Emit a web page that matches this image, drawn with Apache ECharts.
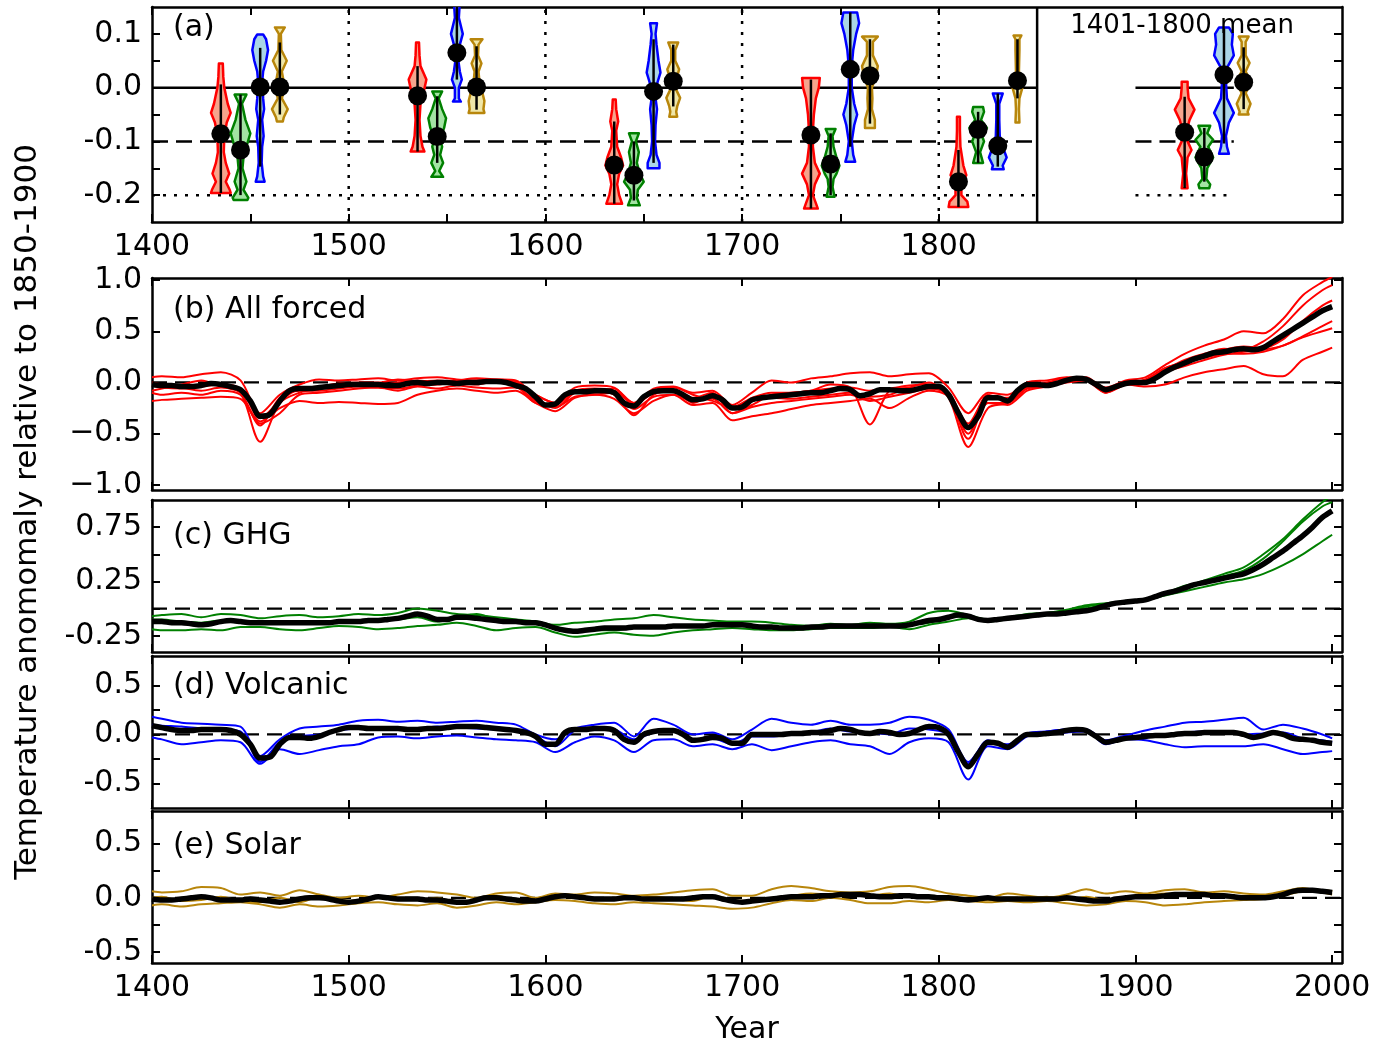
<!DOCTYPE html>
<html>
<head>
<meta charset="utf-8">
<script src="https://cdn.jsdelivr.net/npm/echarts@6/dist/echarts.min.js"></script>
<style>
html,body{margin:0;padding:0;background:#fff}
#main{width:1376px;height:1046px}
</style>
</head>
<body>
<div id="main"></div>
<script>
/**
 * Reconstructed multi panel figure: violins (a) and forced runs (b-e)
 */
var FONT = '"DejaVu Sans", sans-serif';

// ---------- data: panel (a) violins ----------
var violinPos  = [1435,1445,1455,1465, 1535,1545,1555,1565, 1635,1645,1655,1665, 1735,1745,1755,1765, 1810,1820,1830,1840, 1925,1935,1945,1955];
var violinKind = [0,1,2,3, 0,1,2,3, 0,1,2,3, 0,1,2,3, 0,1,2,3, 0,1,2,3];
var violinMean = [-0.086,-0.116,0.001,0.001, -0.015,-0.091,0.065,0.001, -0.144,-0.163,-0.007,0.012, -0.088,-0.142,0.034,0.022, -0.175,-0.078,-0.108,0.013, -0.083,-0.129,0.024,0.010];
var violinHi   = [0.006,-0.013,0.074,0.084, 0.040,-0.016,0.150,0.077, -0.063,-0.100,0.090,0.080, 0.015,-0.085,0.140,0.090, -0.116,-0.045,-0.011,0.090, -0.017,-0.075,0.110,0.075];
var violinLo   = [-0.196,-0.200,-0.147,-0.050, -0.119,-0.140,0.015,-0.041, -0.216,-0.210,-0.140,-0.035, -0.225,-0.200,-0.110,-0.067, -0.222,-0.140,-0.147,-0.020, -0.187,-0.175,-0.104,-0.040];
// density outline, top to bottom: [value, relative half width]
var violinProf = [
  [[0.045,0.2],[0.02,0.25],[0.0,0.35],[-0.03,0.7],[-0.047,1.0],[-0.065,0.6],[-0.09,0.35],[-0.12,0.3],[-0.14,0.5],[-0.16,0.85],[-0.175,0.5],[-0.19,0.9],[-0.196,1.0]],
  [[-0.013,0.6],[-0.03,0.15],[-0.06,0.5],[-0.085,1.0],[-0.11,0.6],[-0.13,0.3],[-0.15,0.2],[-0.175,0.6],[-0.19,0.3],[-0.205,0.8],[-0.209,0.7]],
  [[0.099,0.3],[0.09,0.6],[0.07,0.8],[0.05,0.6],[0.03,0.3],[0.01,0.2],[-0.02,0.3],[-0.04,0.4],[-0.06,0.2],[-0.09,0.35],[-0.11,0.2],[-0.14,0.15],[-0.165,0.3],[-0.175,0.45]],
  [[0.112,0.5],[0.1,0.1],[0.07,0.15],[0.05,0.7],[0.03,0.2],[0.0,0.5],[-0.02,0.2],[-0.04,0.8],[-0.055,0.4],[-0.063,0.3]],
  [[0.084,0.15],[0.06,0.2],[0.04,0.3],[0.015,0.9],[-0.01,0.6],[-0.03,0.3],[-0.06,0.2],[-0.09,0.3],[-0.11,0.5],[-0.119,0.7]],
  [[-0.007,0.5],[-0.02,0.15],[-0.04,0.5],[-0.057,0.9],[-0.075,0.7],[-0.095,0.3],[-0.11,0.5],[-0.125,0.3],[-0.14,0.6],[-0.155,0.2],[-0.166,0.6]],
  [[0.16,0.3],[0.13,0.2],[0.1,0.6],[0.08,0.3],[0.05,0.15],[0.03,0.3],[0.015,0.5],[0.0,0.2],[-0.02,0.2],[-0.026,0.4]],
  [[0.09,0.6],[0.08,0.2],[0.06,0.15],[0.045,0.5],[0.03,0.2],[0.01,0.3],[-0.01,0.6],[-0.025,0.8],[-0.04,0.7],[-0.047,0.8]],
  [[-0.022,0.15],[-0.04,0.2],[-0.063,0.4],[-0.08,0.2],[-0.11,0.3],[-0.13,0.7],[-0.145,0.9],[-0.16,0.5],[-0.18,0.3],[-0.2,0.5],[-0.216,0.8]],
  [[-0.085,0.5],[-0.1,0.2],[-0.12,0.5],[-0.14,0.3],[-0.16,0.6],[-0.175,1.0],[-0.19,0.4],[-0.205,0.3],[-0.219,0.6]],
  [[0.12,0.35],[0.1,0.2],[0.08,0.3],[0.05,0.5],[0.028,0.7],[0.01,0.4],[-0.02,0.2],[-0.04,0.35],[-0.07,0.2],[-0.1,0.15],[-0.125,0.3],[-0.14,0.6],[-0.15,0.6]],
  [[0.084,0.5],[0.07,0.2],[0.05,0.2],[0.034,0.6],[0.015,0.3],[0.0,0.2],[-0.019,0.7],[-0.035,0.4],[-0.045,0.3],[-0.054,0.4]],
  [[0.018,0.9],[0.0,0.8],[-0.02,0.5],[-0.05,0.3],[-0.08,0.2],[-0.11,0.2],[-0.14,0.4],[-0.16,0.9],[-0.18,0.4],[-0.2,0.2],[-0.215,0.5],[-0.225,0.7]],
  [[-0.077,0.5],[-0.09,0.2],[-0.11,0.3],[-0.13,0.6],[-0.145,0.9],[-0.16,0.6],[-0.17,0.3],[-0.185,0.2],[-0.203,0.4]],
  [[0.14,0.7],[0.12,0.9],[0.1,0.6],[0.07,0.3],[0.04,0.15],[0.0,0.15],[-0.03,0.4],[-0.05,0.7],[-0.07,0.4],[-0.1,0.15],[-0.125,0.3],[-0.138,0.5]],
  [[0.095,0.8],[0.085,0.3],[0.06,0.3],[0.04,0.8],[0.02,0.6],[0.0,0.2],[-0.02,0.25],[-0.04,0.2],[-0.06,0.5],[-0.075,0.5]],
  [[-0.054,0.15],[-0.08,0.15],[-0.11,0.2],[-0.145,0.5],[-0.163,0.8],[-0.18,0.3],[-0.2,0.3],[-0.212,0.9],[-0.222,1.0]],
  [[-0.036,0.5],[-0.045,0.6],[-0.06,0.3],[-0.075,0.9],[-0.09,0.4],[-0.1,0.6],[-0.12,0.2],[-0.14,0.5]],
  [[-0.011,0.5],[-0.03,0.15],[-0.06,0.15],[-0.09,0.2],[-0.11,0.5],[-0.13,0.9],[-0.145,0.5],[-0.152,0.6]],
  [[0.097,0.4],[0.09,0.2],[0.07,0.2],[0.03,0.15],[0.0,0.5],[-0.02,0.2],[-0.04,0.15],[-0.065,0.2]],
  [[0.011,0.3],[0.0,0.3],[-0.02,0.4],[-0.041,1.0],[-0.06,0.5],[-0.08,0.2],[-0.1,0.3],[-0.116,0.7],[-0.13,0.3],[-0.16,0.15],[-0.187,0.3]],
  [[-0.071,0.6],[-0.085,0.3],[-0.097,0.9],[-0.11,0.4],[-0.13,0.9],[-0.15,0.3],[-0.17,0.2],[-0.18,0.6],[-0.187,0.5]],
  [[0.112,0.5],[0.1,0.9],[0.08,0.8],[0.06,1.0],[0.04,0.4],[0.01,0.2],[-0.02,0.3],[-0.047,1.0],[-0.065,0.5],[-0.09,0.2],[-0.11,0.3],[-0.123,0.5]],
  [[0.095,0.5],[0.085,0.2],[0.06,0.2],[0.046,0.6],[0.03,0.2],[0.01,0.8],[-0.01,0.2],[-0.03,0.7],[-0.045,0.4],[-0.05,0.5]]
];
var refLevels = [0, -0.1, -0.2];
var refSpans = [[1400, 1850], [1900, 1950]];
var centuryLines = [1500, 1600, 1700, 1800];
var splitYear = 1850;

// ---------- data: panels (b)-(e) ----------
var yearsMean = [
  1400,1405,1410,1415,1420,1425,1430,1435,1440,1445,1450,1455,1460,1465,1470,1475,1480,1485,1490,1495,
  1500,1505,1510,1515,1520,1525,1530,1535,1540,1545,1550,1555,1560,1565,1570,1575,1580,1585,1590,1595,
  1600,1605,1610,1615,1620,1625,1630,1635,1640,1645,1650,1655,1660,1665,1670,1675,1680,1685,1690,1695,
  1700,1705,1710,1715,1720,1725,1730,1735,1740,1745,1750,1755,1760,1765,1770,1775,1780,1785,1790,1795,
  1800,1805,1810,1815,1820,1825,1830,1835,1840,1845,1850,1855,1860,1865,1870,1875,1880,1885,1890,1895,
  1900,1905,1910,1915,1920,1925,1930,1935,1940,1945,1950,1955,1960,1965,1970,1975,1980,1985,1990,1995,
  2000];
var meanForced = [
  -0.02,-0.03,-0.03,-0.04,-0.04,-0.03,-0.01,-0.02,-0.04,-0.07,-0.18,-0.33,-0.31,-0.18,-0.08,-0.06,-0.06,-0.05,-0.04,-0.03,
  -0.02,-0.02,-0.02,-0.02,-0.03,-0.03,-0.01,0.00,-0.01,0.00,0.00,-0.01,0.00,0.00,0.01,0.01,0.00,-0.03,-0.06,-0.14,
  -0.22,-0.21,-0.12,-0.09,-0.09,-0.08,-0.08,-0.10,-0.20,-0.23,-0.14,-0.09,-0.08,-0.08,-0.12,-0.17,-0.16,-0.13,-0.17,-0.25,
  -0.24,-0.17,-0.15,-0.14,-0.13,-0.12,-0.11,-0.10,-0.10,-0.08,-0.06,-0.07,-0.13,-0.11,-0.07,-0.07,-0.08,-0.08,-0.06,-0.04,
  -0.04,-0.12,-0.30,-0.44,-0.33,-0.15,-0.15,-0.18,-0.08,-0.02,-0.02,-0.03,-0.01,0.02,0.04,0.03,-0.02,-0.07,-0.04,-0.01,
  0.00,0.00,0.04,0.10,0.15,0.19,0.23,0.26,0.29,0.30,0.32,0.33,0.32,0.34,0.40,0.46,0.52,0.58,0.64,0.70,
  0.74];
var meanGHG = [
  -0.12,-0.12,-0.13,-0.13,-0.14,-0.15,-0.14,-0.12,-0.11,-0.12,-0.13,-0.13,-0.13,-0.13,-0.13,-0.13,-0.13,-0.13,-0.13,-0.12,
  -0.12,-0.12,-0.11,-0.11,-0.10,-0.09,-0.07,-0.05,-0.07,-0.10,-0.10,-0.08,-0.08,-0.09,-0.10,-0.11,-0.12,-0.12,-0.13,-0.13,
  -0.15,-0.18,-0.20,-0.21,-0.20,-0.19,-0.18,-0.18,-0.18,-0.17,-0.17,-0.17,-0.17,-0.16,-0.16,-0.16,-0.16,-0.15,-0.15,-0.15,
  -0.15,-0.16,-0.17,-0.17,-0.18,-0.18,-0.18,-0.17,-0.17,-0.16,-0.16,-0.16,-0.16,-0.16,-0.16,-0.16,-0.16,-0.15,-0.13,-0.11,
  -0.10,-0.08,-0.06,-0.07,-0.10,-0.11,-0.10,-0.09,-0.08,-0.07,-0.06,-0.05,-0.05,-0.04,-0.03,-0.02,0.00,0.03,0.05,0.06,
  0.07,0.08,0.11,0.14,0.16,0.19,0.22,0.24,0.26,0.28,0.30,0.32,0.36,0.41,0.47,0.53,0.60,0.67,0.75,0.84,
  0.90];
var meanVolc = [
  0.09,0.07,0.05,0.04,0.04,0.05,0.05,0.05,0.04,0.00,-0.10,-0.24,-0.23,-0.10,-0.03,-0.03,-0.04,-0.02,0.02,0.05,
  0.07,0.07,0.06,0.06,0.06,0.06,0.05,0.05,0.06,0.06,0.07,0.08,0.08,0.08,0.07,0.06,0.05,0.04,0.02,-0.02,
  -0.10,-0.10,0.02,0.05,0.05,0.06,0.06,0.04,-0.05,-0.08,0.00,0.03,0.04,0.04,0.00,-0.06,-0.05,-0.03,-0.04,-0.09,
  -0.09,0.00,0.00,0.00,0.00,0.01,0.01,0.02,0.02,0.04,0.06,0.05,0.02,0.01,0.03,0.02,0.00,0.01,0.05,0.08,
  0.07,0.00,-0.18,-0.33,-0.20,-0.08,-0.09,-0.13,-0.06,0.00,0.00,0.01,0.02,0.04,0.05,0.04,-0.02,-0.08,-0.06,-0.04,
  -0.03,-0.02,-0.01,-0.01,0.00,0.01,0.01,0.02,0.02,0.02,0.02,0.00,-0.03,-0.01,0.02,0.00,-0.04,-0.05,-0.06,-0.08,
  -0.09];
var meanSolar = [
  -0.01,-0.02,-0.02,-0.01,0.00,0.01,0.00,-0.02,-0.02,-0.02,-0.01,-0.02,-0.03,-0.04,-0.03,-0.01,0.00,0.00,-0.01,-0.03,
  -0.04,-0.03,-0.01,0.01,0.00,-0.01,-0.01,-0.01,-0.02,-0.02,-0.03,-0.04,-0.04,-0.02,0.00,0.00,-0.01,-0.02,-0.03,-0.03,
  -0.01,0.01,0.02,0.01,0.00,-0.01,-0.01,-0.01,0.00,0.00,-0.01,-0.01,-0.01,-0.01,-0.01,0.00,0.01,0.01,-0.01,-0.03,
  -0.04,-0.03,-0.02,-0.01,0.00,0.01,0.01,0.01,0.02,0.02,0.03,0.03,0.03,0.02,0.01,0.01,0.02,0.02,0.01,0.01,
  0.00,0.00,-0.01,-0.02,-0.01,0.00,-0.01,-0.01,-0.01,-0.01,-0.01,-0.01,-0.01,0.00,-0.01,-0.02,-0.03,-0.03,-0.01,0.00,
  0.01,0.01,0.01,0.02,0.03,0.03,0.03,0.03,0.02,0.02,0.01,0.00,0.00,0.00,0.01,0.03,0.06,0.07,0.07,0.06,
  0.05];

// ensemble members, sampled every 10 years (offset to hit the eruption dips)
var yearsMember = [
  1400,1405,1415,1425,1435,1445,1455,1465,1475,1485,1495,
  1505,1515,1525,1535,1545,1555,1565,1575,1585,1595,
  1605,1615,1625,1635,1645,1655,1665,1675,1685,1695,
  1705,1715,1725,1735,1745,1755,1765,1775,1785,1795,
  1805,1815,1825,1835,1845,1855,1865,1875,1885,1895,
  1905,1915,1925,1935,1945,1955,1965,1975,1985,1995,
  2000];
var forcedRuns = [
  [0.05,0.06,0.05,0.08,0.10,0.02,-0.30,-0.12,-0.02,0.03,0.02,
   0.03,0.04,0.02,0.04,0.05,0.03,0.02,0.03,0.00,-0.12,
   -0.20,-0.05,-0.03,-0.05,-0.20,-0.06,-0.04,-0.10,-0.08,-0.22,
   -0.10,0.02,0.00,0.04,0.06,0.09,0.10,0.06,0.08,0.09,
   -0.05,-0.30,-0.10,-0.12,0.00,0.02,0.05,0.04,-0.05,0.02,
   0.05,0.17,0.28,0.36,0.42,0.50,0.48,0.62,0.85,0.98,
   1.03],
  [-0.18,-0.17,-0.16,-0.15,-0.14,-0.16,-0.38,-0.25,-0.18,-0.20,-0.19,
   -0.20,-0.21,-0.20,-0.12,-0.08,-0.06,-0.08,-0.10,-0.08,-0.20,
   -0.28,-0.15,-0.12,-0.16,-0.30,-0.18,-0.12,-0.22,-0.20,-0.37,
   -0.33,-0.30,-0.26,-0.22,-0.20,-0.18,-0.16,-0.25,-0.15,-0.08,
   -0.14,-0.55,-0.20,-0.22,-0.08,-0.04,0.00,0.02,-0.10,-0.02,
   -0.04,-0.02,0.05,0.10,0.13,0.16,0.08,0.06,0.22,0.30,
   0.34],
  [0.00,-0.02,-0.05,-0.08,-0.05,-0.10,-0.58,-0.20,-0.10,-0.06,-0.04,
   -0.01,-0.03,0.00,0.02,0.00,0.02,0.04,0.03,0.02,-0.15,
   -0.25,-0.10,-0.08,-0.12,-0.32,-0.12,-0.08,-0.15,-0.10,-0.30,
   -0.22,-0.12,-0.10,-0.08,-0.02,-0.05,-0.41,-0.08,-0.05,0.00,
   -0.15,-0.63,-0.25,-0.20,-0.05,0.00,0.04,0.02,-0.10,-0.02,
   0.02,0.12,0.22,0.28,0.33,0.32,0.40,0.55,0.75,0.90,
   0.95],
  [-0.08,-0.06,-0.02,0.02,-0.04,-0.10,-0.42,-0.15,-0.08,-0.08,-0.06,
   -0.04,-0.05,-0.06,-0.03,-0.02,0.00,0.02,0.00,-0.03,-0.20,
   -0.22,-0.10,-0.10,-0.06,-0.22,-0.10,-0.08,-0.20,-0.12,-0.25,
   -0.18,-0.15,-0.16,-0.14,-0.12,-0.10,-0.14,-0.12,-0.06,-0.06,
   -0.10,-0.45,-0.12,-0.18,-0.04,-0.03,0.02,0.04,-0.06,0.00,
   0.00,0.10,0.16,0.22,0.27,0.30,0.32,0.36,0.45,0.55,
   0.60],
  [-0.03,-0.05,-0.06,-0.04,-0.02,-0.06,-0.35,-0.18,-0.06,-0.04,-0.01,
   0.00,0.00,0.03,0.01,0.02,0.00,-0.02,0.02,0.01,-0.12,
   -0.20,-0.08,-0.06,-0.08,-0.20,-0.08,-0.05,-0.12,-0.18,-0.24,
   -0.15,-0.10,-0.10,-0.08,-0.06,-0.05,-0.08,-0.06,-0.03,-0.02,
   -0.10,-0.40,-0.14,-0.15,-0.02,-0.02,0.03,0.05,-0.08,0.00,
   0.02,0.14,0.20,0.24,0.28,0.28,0.30,0.36,0.44,0.50,
   0.53],
  [-0.10,-0.12,-0.10,-0.12,-0.08,-0.12,-0.40,-0.30,-0.12,-0.10,-0.08,
   -0.06,-0.05,-0.08,-0.04,-0.06,-0.03,-0.05,-0.06,-0.05,-0.18,
   -0.24,-0.14,-0.12,-0.10,-0.26,-0.14,-0.12,-0.18,-0.16,-0.30,
   -0.24,-0.20,-0.18,-0.16,-0.14,-0.12,-0.18,-0.14,-0.10,-0.06,
   -0.12,-0.50,-0.20,-0.20,-0.06,-0.04,0.02,0.03,-0.08,-0.01,
   0.03,0.14,0.20,0.27,0.32,0.35,0.34,0.42,0.60,0.75,
   0.80]
];
var ghgRuns = [
  [-0.07,-0.06,-0.05,-0.08,-0.05,-0.06,-0.09,-0.07,-0.06,-0.08,-0.07,
   -0.05,-0.06,-0.04,0.00,-0.02,-0.05,-0.06,-0.08,-0.10,-0.12,
   -0.15,-0.13,-0.12,-0.10,-0.09,-0.06,-0.08,-0.10,-0.11,-0.12,
   -0.12,-0.13,-0.15,-0.16,-0.14,-0.15,-0.13,-0.14,-0.12,-0.04,
   -0.02,-0.06,-0.10,-0.08,-0.05,-0.04,-0.02,0.02,0.04,0.06,
   0.09,0.14,0.20,0.26,0.32,0.38,0.50,0.64,0.82,0.98,
   1.04],
  [-0.19,-0.20,-0.20,-0.19,-0.20,-0.17,-0.17,-0.19,-0.20,-0.18,-0.16,
   -0.17,-0.19,-0.18,-0.16,-0.15,-0.13,-0.16,-0.20,-0.18,-0.17,
   -0.22,-0.26,-0.24,-0.22,-0.24,-0.25,-0.22,-0.20,-0.19,-0.18,
   -0.19,-0.20,-0.20,-0.19,-0.18,-0.18,-0.18,-0.17,-0.19,-0.15,
   -0.12,-0.09,-0.12,-0.10,-0.08,-0.06,-0.04,0.00,0.04,0.06,
   0.08,0.12,0.16,0.20,0.24,0.27,0.32,0.40,0.50,0.62,
   0.68],
  [-0.10,-0.10,-0.12,-0.13,-0.11,-0.13,-0.13,-0.12,-0.14,-0.13,-0.12,
   -0.13,-0.10,-0.10,-0.08,-0.12,-0.08,-0.05,-0.10,-0.12,-0.12,
   -0.17,-0.20,-0.20,-0.20,-0.18,-0.17,-0.16,-0.16,-0.15,-0.14,
   -0.15,-0.17,-0.18,-0.17,-0.16,-0.17,-0.15,-0.16,-0.15,-0.13,
   -0.08,-0.07,-0.11,-0.09,-0.06,-0.04,-0.01,0.03,0.05,0.07,
   0.08,0.14,0.21,0.25,0.30,0.35,0.46,0.62,0.80,0.94,
   0.98]
];
var volcRuns = [
  [0.18,0.16,0.12,0.11,0.10,0.08,-0.22,-0.05,0.06,0.08,0.10,
   0.14,0.15,0.13,0.14,0.12,0.13,0.14,0.12,0.10,0.00,
   -0.05,0.06,0.10,0.12,-0.02,0.16,0.10,0.00,0.02,-0.05,
   0.05,0.16,0.12,0.10,0.14,0.10,0.10,0.12,0.18,0.15,
   0.05,-0.28,-0.08,-0.10,0.01,0.03,0.05,0.05,-0.06,-0.01,
   0.04,0.08,0.12,0.13,0.15,0.17,0.05,0.10,0.06,0.00,
   -0.04],
  [-0.03,-0.05,-0.10,-0.08,-0.06,-0.08,-0.30,-0.15,-0.20,-0.16,-0.12,
   -0.10,-0.03,-0.02,-0.04,-0.02,-0.01,-0.03,-0.05,-0.06,-0.08,
   -0.18,-0.08,-0.02,-0.06,-0.18,-0.06,-0.05,-0.12,-0.10,-0.15,
   -0.10,-0.16,-0.12,-0.08,-0.06,-0.10,-0.12,-0.20,-0.08,-0.04,
   -0.08,-0.46,-0.12,-0.15,-0.02,0.00,0.02,0.03,-0.10,-0.05,
   -0.06,-0.10,-0.13,-0.12,-0.12,-0.12,-0.10,-0.15,-0.20,-0.18,
   -0.17],
  [0.10,0.09,0.08,0.06,0.05,0.03,-0.28,-0.08,-0.02,0.00,0.04,
   0.06,0.05,0.06,0.05,0.08,0.07,0.06,0.05,0.04,-0.02,
   -0.12,0.04,0.06,0.05,-0.05,0.02,0.04,-0.05,-0.04,-0.10,
   -0.02,-0.02,0.00,0.02,0.06,0.03,0.02,0.00,0.06,0.05,
   0.00,-0.30,-0.06,-0.12,0.00,0.03,0.05,0.04,-0.08,-0.04,
   -0.02,0.00,0.02,0.03,0.03,0.00,0.01,0.02,-0.04,-0.06,
   -0.08]
];
var solarRuns = [
  [0.06,0.05,0.06,0.10,0.09,0.03,0.05,0.02,0.07,0.03,0.00,
   0.02,0.00,0.03,0.06,0.05,0.03,0.00,0.04,0.05,0.00,
   0.04,0.03,0.05,0.04,0.02,0.03,0.05,0.07,0.08,0.02,
   0.02,0.08,0.11,0.09,0.06,0.05,0.06,0.10,0.11,0.08,
   0.04,0.02,0.00,0.04,0.02,0.00,0.03,0.08,0.04,0.06,
   0.04,0.07,0.08,0.05,0.06,0.04,0.03,0.06,0.09,0.05,
   0.03],
  [-0.07,-0.06,-0.08,-0.06,-0.05,-0.04,-0.06,-0.09,-0.06,-0.08,-0.07,
   -0.05,-0.04,-0.06,-0.07,-0.05,-0.09,-0.07,-0.04,-0.06,-0.04,
   -0.02,-0.03,-0.05,-0.06,-0.04,-0.05,-0.06,-0.07,-0.08,-0.10,
   -0.09,-0.05,-0.02,-0.03,0.00,-0.02,-0.05,-0.05,-0.03,-0.04,
   -0.02,-0.03,-0.04,-0.03,-0.04,-0.03,-0.05,-0.07,-0.06,-0.03,
   -0.04,-0.07,-0.06,-0.04,-0.03,-0.02,-0.01,0.02,0.06,0.07,
   0.06],
  [0.00,0.01,-0.03,-0.02,0.01,-0.03,-0.04,0.00,-0.04,0.01,-0.02,
   -0.03,0.01,-0.01,-0.02,0.00,-0.05,-0.01,0.02,-0.02,-0.04,
   0.00,0.02,-0.02,0.00,-0.01,0.01,-0.01,-0.03,0.02,-0.02,
   -0.03,0.00,0.02,0.04,0.03,0.04,0.02,0.04,0.01,0.02,
   0.01,-0.01,-0.02,0.00,0.00,0.01,-0.02,0.01,-0.02,0.00,
   0.02,0.04,0.03,0.05,0.02,0.00,0.02,0.04,0.08,0.07,
   0.06]
];

// ---------- ticks and labels ----------
var xTicksA = [1400,1450,1500,1550,1600,1650,1700,1750,1800];
var xLabelsA = [1400,1500,1600,1700,1800];
var xTicks = [1400,1500,1600,1700,1800,1900,2000];
var yTicksA = [-0.2,-0.15,-0.1,-0.05,0,0.05,0.1];
var yLabelsA = [-0.2,-0.1,0,0.1];
var yTicksB = [-1,-0.5,0,0.5,1];
var yTicksC = [-0.25,0,0.25,0.5,0.75];
var yLabelsC = [-0.25,0.25,0.75];
var yTicksDE = [-0.5,-0.25,0,0.25,0.5];
var yLabelsDE = [-0.5,0,0.5];

// ---------- layout / style ----------
var kindColor = ['#ff0000','#008000','#0000ff','#b8860b'];
var kindFill  = ['#f6a48c','#a3e4a3','#aad5e6','#efe6a8'];
var violinHalf = 5; // years at full density

var panels = [
  {grid:{left:152,top:7,width:1190,height:215},  yMin:-0.25, yMax:0.15, yTicks:yTicksA, yLabels:yLabelsA, fmt:function(v){return v.toFixed(1);}},
  {grid:{left:152,top:278,width:1190,height:212},yMin:-1.05, yMax:1.02, yTicks:yTicksB, yLabels:yTicksB, fmt:function(v){return (v<0?'\u2212':'')+Math.abs(v).toFixed(1);}},
  {grid:{left:152,top:500,width:1190,height:152},yMin:-0.4,  yMax:1.0,  yTicks:yTicksC, yLabels:yLabelsC, fmt:function(v){return v.toFixed(2);}},
  {grid:{left:152,top:656,width:1190,height:152},yMin:-0.75, yMax:0.8,  yTicks:yTicksDE, yLabels:yLabelsDE, fmt:function(v){return v.toFixed(1);}},
  {grid:{left:152,top:811,width:1190,height:152},yMin:-0.6,  yMax:0.8,  yTicks:yTicksDE, yLabels:yLabelsDE, fmt:function(v){return v.toFixed(1);}}
];

var lineAxis = {show:true, onZero:false, lineStyle:{color:'#000', width:2.5}};
function tickStyle(vals){
  return {show:true, inside:true, length:8, customValues:vals, lineStyle:{color:'#000', width:2}};
}
function labelStyle(vals, fmt){
  return {show:!!vals, customValues:vals || [], formatter:fmt, fontSize:30, fontFamily:FONT, color:'#000', margin:10};
}

var xAxes = [], yAxes = [];
panels.forEach(function(p, gi){
  var xt = gi === 0 ? xTicksA : xTicks;
  var xl = gi === 0 ? xLabelsA : (gi === 4 ? xTicks : null);
  xAxes.push({type:'value', gridIndex:gi, position:'bottom', min:1400, max:2005, axisLine:lineAxis,
    axisTick:tickStyle(xt), axisLabel:labelStyle(xl, function(v){return String(v);}), splitLine:{show:false}});
  xAxes.push({type:'value', gridIndex:gi, position:'top', min:1400, max:2005, axisLine:lineAxis,
    axisTick:tickStyle(xt), axisLabel:{show:false}, splitLine:{show:false}});
  yAxes.push({type:'value', gridIndex:gi, position:'left', min:p.yMin, max:p.yMax, axisLine:lineAxis,
    axisTick:tickStyle(p.yTicks), axisLabel:labelStyle(p.yLabels, p.fmt), splitLine:{show:false}});
  yAxes.push({type:'value', gridIndex:gi, position:'right', min:p.yMin, max:p.yMax, axisLine:lineAxis,
    axisTick:tickStyle(p.yTicks), axisLabel:{show:false}, splitLine:{show:false}});
});

function seg(gi, pts, color, width, type, z){
  return {type:'line', xAxisIndex:gi*2, yAxisIndex:gi*2, data:pts, symbol:'none', silent:true,
    lineStyle:{color:color, width:width, type:type || 'solid', cap:'butt'}, z:z || 1, animation:false};
}
function curve(gi, xs, ys, color, width, z){
  return {type:'line', xAxisIndex:gi*2, yAxisIndex:gi*2, symbol:'none', silent:true, smooth:0.3,
    data:xs.map(function(x, i){ return [x, ys[i]]; }),
    lineStyle:{color:color, width:width}, z:z, animation:false, clip:true};
}

var series = [];
// panel (a) reference lines
var refTypes = ['solid', [16, 8], [3, 8]];
refLevels.forEach(function(lv, k){
  refSpans.forEach(function(sp){
    series.push(seg(0, [[sp[0], lv], [sp[1], lv]], '#000', 2.5, refTypes[k], 1));
  });
});
centuryLines.forEach(function(yr){
  series.push(seg(0, [[yr, -0.25], [yr, 0.15]], '#000', 2.5, [3, 8], 1));
});
series.push(seg(0, [[splitYear, -0.25], [splitYear, 0.15]], '#000', 2.5, 'solid', 1));

// panel (a) violins
series.push({
  type:'custom', xAxisIndex:0, yAxisIndex:0, clip:true, silent:true, animation:false, z:5,
  data:violinPos.map(function(p, i){ return [i, p, violinMean[i]]; }),
  encode:{x:1, y:2},
  renderItem:function(params, api){
    var i = api.value(0);
    var x = violinPos[i];
    var half = api.size([violinHalf, 0])[0];
    var right = [], left = [];
    violinProf[i].forEach(function(pt){
      var c = api.coord([x, pt[0]]);
      right.push([c[0] + pt[1] * half, c[1]]);
      left.unshift([c[0] - pt[1] * half, c[1]]);
    });
    var top = api.coord([x, violinHi[i]]);
    var bot = api.coord([x, violinLo[i]]);
    var m = api.coord([x, violinMean[i]]);
    var k = violinKind[i];
    return {type:'group', children:[
      {type:'polygon', shape:{points:right.concat(left)}, style:{fill:kindFill[k], stroke:kindColor[k], lineWidth:2.5, lineJoin:'round'}},
      {type:'line', shape:{x1:top[0], y1:top[1], x2:bot[0], y2:bot[1]}, style:{stroke:'#000', lineWidth:2.5}},
      {type:'circle', shape:{cx:m[0], cy:m[1], r:9.5}, style:{fill:'#000'}}
    ]};
  }
});

// panels (b)-(e)
var groups = [
  {gi:1, runs:forcedRuns, mean:meanForced, color:'#ff0000'},
  {gi:2, runs:ghgRuns,    mean:meanGHG,    color:'#008000'},
  {gi:3, runs:volcRuns,   mean:meanVolc,   color:'#0000ff'},
  {gi:4, runs:solarRuns,  mean:meanSolar,  color:'#b8860b'}
];
groups.forEach(function(g){
  series.push(seg(g.gi, [[1400, 0], [2005, 0]], '#000', 2.2, [15, 8], 2));
  g.runs.forEach(function(r){ series.push(curve(g.gi, yearsMember, r, g.color, 2, 3)); });
  series.push(curve(g.gi, yearsMean, g.mean, '#000', 5.5, 4));
});

function txt(x, y, s, size, align){
  return {type:'text', x:x, y:y, silent:true, z:100,
    style:{text:s, fill:'#000', font:size + 'px ' + FONT, align:align || 'left', verticalAlign:'middle'}};
}

var option = {
  backgroundColor:'#fff',
  animation:false,
  grid:panels.map(function(p){ return p.grid; }),
  xAxis:xAxes,
  yAxis:yAxes,
  series:series,
  graphic:[
    txt(173, 28, '(a)', 30),
    txt(1182, 26, '1401-1800 mean', 26, 'center'),
    txt(173, 310, '(b) All forced', 30),
    txt(173, 536, '(c) GHG', 30),
    txt(173, 686, '(d) Volcanic', 30),
    txt(173, 846, '(e) Solar', 30),
    txt(747, 1030, 'Year', 30, 'center'),
    {type:'text', x:28, y:512, rotation:Math.PI / 2, silent:true, z:100,
      style:{text:'Temperature anomomaly relative to 1850-1900', fill:'#000', font:'31px ' + FONT, align:'center', verticalAlign:'middle'}}
  ]
};

var chart = echarts.init(document.getElementById('main'));
chart.setOption(option);
</script>
</body>
</html>
